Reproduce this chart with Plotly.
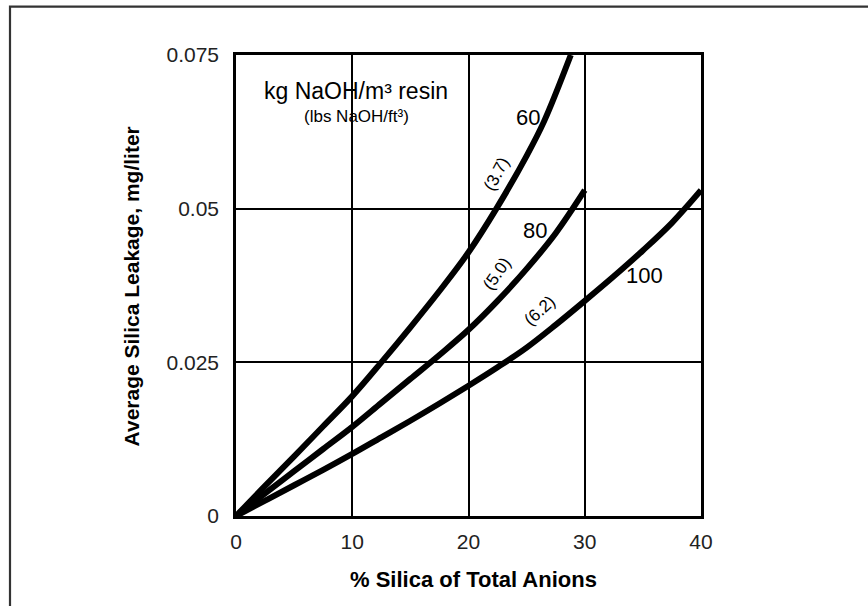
import plotly.graph_objects as go

# ---- data ----
x60 = [0, 2.5, 5, 7.5, 10, 12.5, 15, 17.5, 20, 22.4, 25, 26.5, 28.8]
y60 = [0, 0.0049, 0.0097, 0.0146, 0.0195, 0.0250, 0.0307, 0.0366, 0.0429, 0.0500, 0.0586, 0.0642, 0.0750]

x80 = [0, 2.5, 5, 7.5, 10, 12.5, 15, 17.5, 20, 22.5, 25, 27.5, 30]
y80 = [0, 0.0037, 0.0073, 0.0109, 0.0145, 0.0184, 0.0223, 0.0262, 0.0303, 0.0350, 0.0402, 0.0460, 0.0530]

x100 = [0, 2.5, 5, 7.5, 10, 12.5, 15, 17.5, 20, 22.5, 25, 27.5, 30, 32.5, 35, 37.5, 40]
y100 = [0, 0.0025, 0.0050, 0.0075, 0.0101, 0.0128, 0.0155, 0.0183, 0.0212, 0.0242, 0.0274, 0.0311, 0.0350, 0.0390, 0.0432, 0.0477, 0.0530]

x_ticks = [0, 10, 20, 30, 40]
x_ticktext = ["0", "10", "20", "30", "40"]
y_ticks = [0, 0.025, 0.05, 0.075]
y_ticktext = ["0", "0.025", "0.05", "0.075"]

FONT = "Liberation Sans, Arial, sans-serif"

fig = go.Figure()
for xs, ys in [(x60, y60), (x80, y80), (x100, y100)]:
    fig.add_trace(go.Scatter(x=xs, y=ys, mode="lines",
                             line=dict(color="black", width=6, shape="spline"),
                             showlegend=False, hoverinfo="skip"))

fig.update_layout(
    width=868, height=606,
    margin=dict(l=236, r=167, t=55, b=90),
    paper_bgcolor="white", plot_bgcolor="white",
    font=dict(family=FONT, color="black", size=19),
    showlegend=False,
)
fig.update_xaxes(range=[0, 40], tickvals=x_ticks, ticktext=x_ticktext,
                 showgrid=True, gridcolor="black", gridwidth=1.5,
                 showline=True, linecolor="black", linewidth=2.5, mirror=True,
                 zeroline=False, ticks="", ticklabelstandoff=5,
                 tickfont=dict(size=21, family=FONT, color="#222"))
fig.update_yaxes(range=[0, 0.075], tickvals=y_ticks, ticktext=y_ticktext,
                 showgrid=True, gridcolor="black", gridwidth=1.5,
                 showline=True, linecolor="black", linewidth=2.5, mirror=True,
                 zeroline=False, ticks="", ticklabelstandoff=10,
                 tickfont=dict(size=21, family=FONT, color="#222"))

# outer frame
fig.add_shape(type="rect", xref="paper", yref="paper",
              x0=(10 - 236) / 465, x1=1.40, y0=-0.25, y1=(516 - 6) / 461.5,
              line=dict(color="#333", width=2.2), fillcolor="rgba(0,0,0,0)")

# axis titles
fig.add_annotation(text="<b>% Silica of Total Anions</b>", xref="paper", yref="paper",
                   x=(473 - 236) / 465, y=(516 - 580) / 461.5,
                   xanchor="center", yanchor="middle", showarrow=False,
                   font=dict(size=22, family=FONT, color="black"))
fig.add_annotation(text="<b>Average Silica Leakage, mg/liter</b>", xref="paper", yref="paper",
                   x=(131 - 236) / 465, y=0.498, xanchor="center", yanchor="middle",
                   textangle=-90, showarrow=False,
                   font=dict(size=21, family=FONT, color="black"))

# in-plot labels
fig.add_annotation(text="kg NaOH/m³ resin", x=10.28, y=0.0692, showarrow=False,
                   font=dict(size=23, family=FONT, color="black"))
fig.add_annotation(text="(lbs NaOH/ft³)", x=10.37, y=0.0650, showarrow=False,
                   font=dict(size=17, family=FONT, color="black"))
fig.add_annotation(text="60", x=25.16, y=0.0648, showarrow=False,
                   font=dict(size=22, family=FONT, color="black"))
fig.add_annotation(text="(3.7)", x=22.45, y=0.0557, textangle=-62, showarrow=False,
                   font=dict(size=17, family=FONT, color="black"))
fig.add_annotation(text="80", x=25.68, y=0.0465, showarrow=False,
                   font=dict(size=22, family=FONT, color="black"))
fig.add_annotation(text="(5.0)", x=22.45, y=0.0395, textangle=-55, showarrow=False,
                   font=dict(size=17, family=FONT, color="black"))
fig.add_annotation(text="100", x=35.18, y=0.0392, showarrow=False,
                   font=dict(size=22, family=FONT, color="black"))
fig.add_annotation(text="(6.2)", x=26.15, y=0.0335, textangle=-42, showarrow=False,
                   font=dict(size=17, family=FONT, color="black"))

fig.write_html("out.html", config={"displayModeBar": False},
               post_script="document.body.style.margin='0px';")
